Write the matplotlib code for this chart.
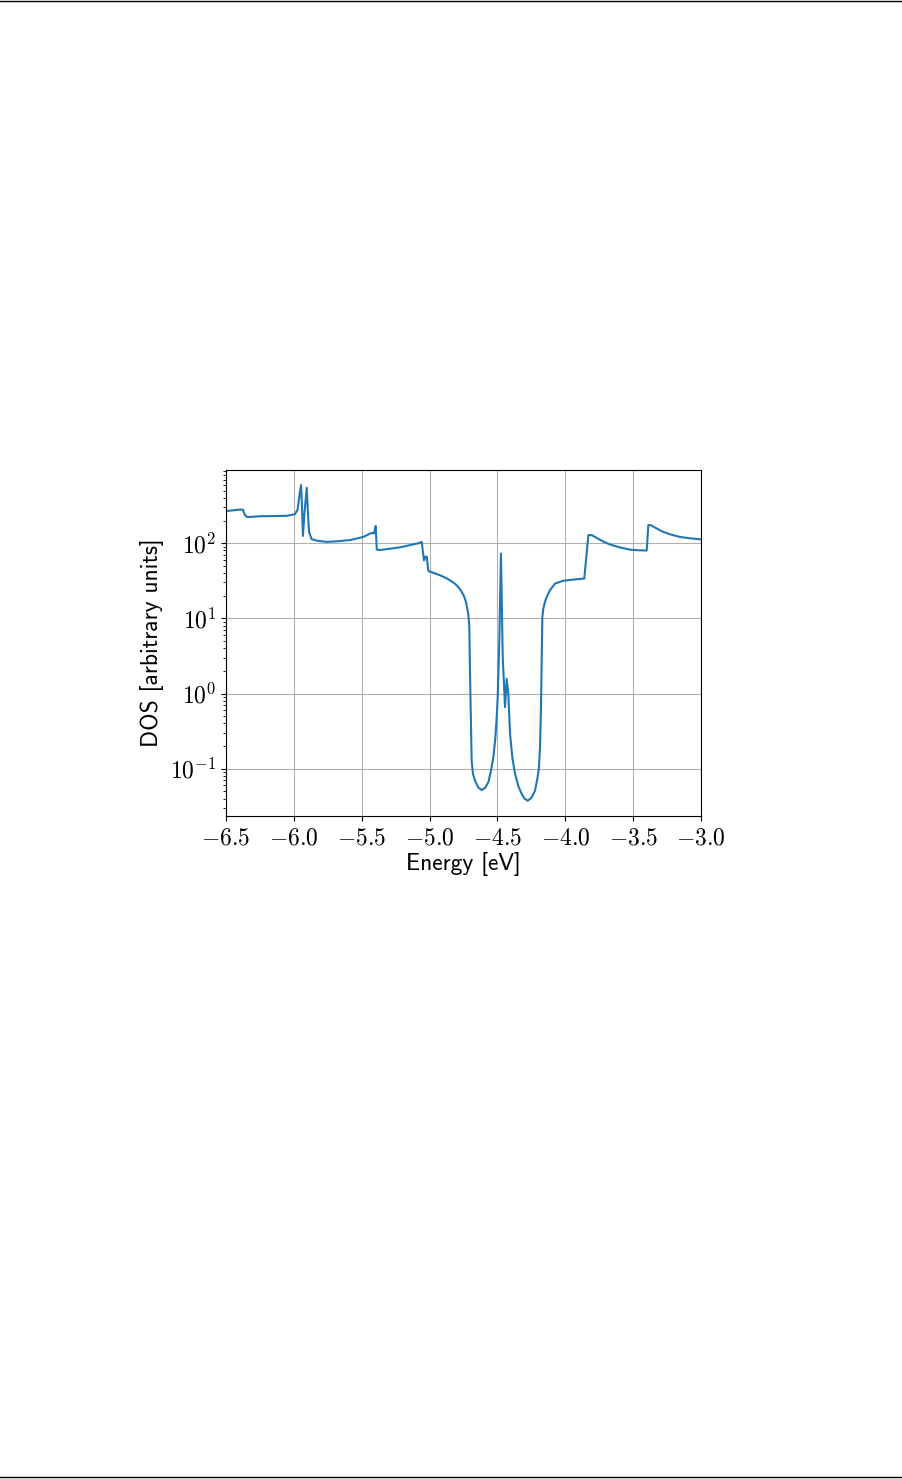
import os
import matplotlib
matplotlib.use("Agg")
import matplotlib.pyplot as plt
from matplotlib.lines import Line2D
from matplotlib.ticker import FuncFormatter, FixedLocator, LogLocator
from matplotlib.font_manager import FontProperties
import numpy as np

plt.rcParams['mathtext.fontset'] = 'cm'

energy = [-6.500, -6.397, -6.375, -6.364, -6.345, -6.249, -6.050, -5.992, -5.972,
          -5.958, -5.947, -5.940, -5.933, -5.922, -5.905, -5.896, -5.888, -5.869,
          -5.832, -5.758, -5.680, -5.586, -5.488, -5.427, -5.409, -5.397, -5.389,
          -5.365, -5.218, -5.080, -5.058, -5.041, -5.030, -5.021, -5.009, -4.923,
          -4.880, -4.849, -4.820, -4.800, -4.780, -4.763, -4.745, -4.732, -4.715,
          -4.707, -4.702, -4.696, -4.690, -4.680,
          -4.665, -4.640, -4.616, -4.590, -4.567, -4.550, -4.530, -4.515, -4.505,
          -4.498, -4.486, -4.474, -4.461, -4.444, -4.432, -4.420, -4.407, -4.390,
          -4.370, -4.345, -4.321, -4.300, -4.277, -4.250, -4.223, -4.205, -4.194,
          -4.186, -4.179, -4.173, -4.169, -4.162, -4.150, -4.137, -4.113, -4.076,
          -4.015, -3.940, -3.860, -3.830, -3.805, -3.760, -3.720, -3.670, -3.600,
          -3.523, -3.460, -3.400, -3.388, -3.371, -3.330, -3.278, -3.220, -3.155,
          -3.080, -2.995]
dos = [267, 280, 278, 243, 222, 228, 231, 243, 280,
       450, 593, 300, 125, 250, 545, 250, 141, 113,
       108, 104, 106, 110, 121, 137, 135, 169, 82,
       81, 88, 100, 104, 59, 66, 66, 42.7, 37.4,
       34.5, 32, 29.5, 27.5, 25, 22.4, 19.5, 16.5, 11.5,
       7.7, 1.85, 0.5, 0.128, 0.085,
       0.069, 0.056, 0.052, 0.056, 0.066, 0.090, 0.141, 0.26, 0.50,
       0.89, 5.1, 72.8, 3.05, 0.66, 1.57, 1.0, 0.29, 0.14,
       0.085, 0.058, 0.046, 0.040, 0.0375, 0.041, 0.051, 0.075, 0.104,
       0.2, 0.66, 3.5, 10.4, 13.5, 16.5, 19.2, 23.6, 29,
       31.6, 32.8, 33.8, 128, 128, 115, 105, 96, 88,
       82, 80.5, 79.8, 174, 174, 158, 141, 130, 121,
       116, 112]

xticks = [-6.5, -6.0, -5.5, -5.0, -4.5, -4.0, -3.5, -3.0]
yticks = [0.1, 1, 10, 100]
ytick_labels = [r'$10^{-1}$', r'$10^{0}$', r'$10^{1}$', r'$10^{2}$']

W, H = 903, 1479
fig = plt.figure(figsize=(W / 100, H / 100), dpi=100)
ax = fig.add_axes([226 / W, 1 - 816 / H, (701 - 226) / W, (816 - 470) / H])

ax.plot(energy, dos, color='#1f77b4', lw=1.5)
ax.set_yscale('log')
ax.set_xlim(-6.5, -3.0)
ax.set_ylim(0.0235, 940)

ax.xaxis.set_major_locator(FixedLocator(xticks))
ax.xaxis.set_major_formatter(FuncFormatter(lambda v, p: r'$%.1f$' % v))
ax.yaxis.set_major_locator(FixedLocator(yticks))
ax.set_yticklabels(ytick_labels)
ax.yaxis.set_minor_locator(LogLocator(base=10, subs=np.arange(2, 10)))
ax.yaxis.set_minor_formatter(plt.NullFormatter())

ax.tick_params(axis='both', which='major', labelsize=17)
ax.grid(True, which='major', color='#b0b0b0', lw=0.8)

cmss_path = os.path.join(matplotlib.get_data_path(), 'fonts', 'ttf', 'cmss10.ttf')
if os.path.exists(cmss_path):
    lab_font = FontProperties(fname=cmss_path, size=17)
else:
    lab_font = FontProperties(family='DejaVu Sans', size=16)

ax.set_xlabel('Energy [eV]', fontproperties=lab_font, labelpad=2)
ax.set_ylabel('DOS [arbitrary units]', fontproperties=lab_font, labelpad=4)

fig.add_artist(Line2D([0, 1], [1 - 0.6 / H, 1 - 0.6 / H], color='black', lw=1.0,
                      transform=fig.transFigure))
fig.add_artist(Line2D([0, 1], [1.6 / H, 1.6 / H], color='black', lw=1.0,
                      transform=fig.transFigure))

fig.savefig('out.png', dpi=100)
